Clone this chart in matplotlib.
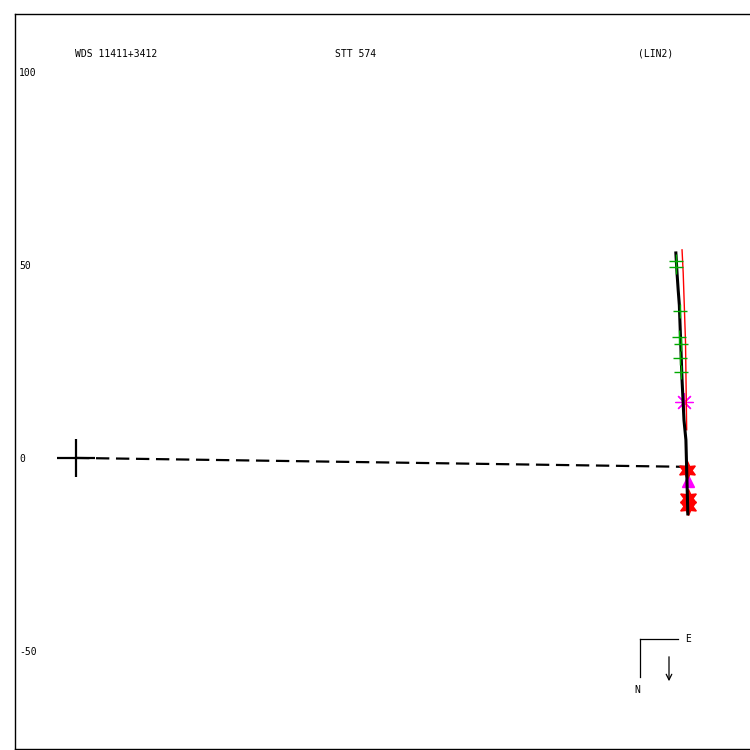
import matplotlib
matplotlib.use("Agg")
import matplotlib.pyplot as plt

# orbit / measures (arcsec-ish units, primary at origin)
orbit_x = [155.4, 155.7, 156.0, 156.3, 157.0, 157.5, 158.0, 158.5]
orbit_y = [53.1, 47.9, 43.5, 39.6, 20.2, 9.8, 4.7, -14.5]
red_x = [157.0, 157.3, 157.9, 158.2]
red_y = [53.9, 47.9, 30.0, 7.3]
node_x = [0.0, 157.8]
node_y = [0.0, -2.3]
micro_x = [155.4, 155.4, 156.5, 156.2, 156.7, 156.5, 156.7]
micro_y = [51.0, 49.5, 38.1, 31.3, 29.5, 25.9, 22.3]
ast_x = [157.5]
ast_y = [14.5]
star_x = [158.3, 158.5, 158.5]
star_y = [-3.1, -10.4, -12.4]
tri_x = [158.5]
tri_y = [-6.0]
yticks = [100, 50, 0, -50]
titles = ["WDS 11411+3412", "STT 574", "(LIN2)"]

fig = plt.figure(figsize=(7.5, 7.5), dpi=100)
ax = fig.add_axes([15 / 750, 1 / 750, 740 / 750, 735 / 750])
ax.set_xlim(-15.8, 175.9)
ax.set_ylim(-75.4, 115.0)

for s in ax.spines.values():
    s.set_linewidth(1.0)
ax.set_xticks([])
ax.set_yticks(yticks)
ax.set_yticklabels([str(v) for v in yticks], family="DejaVu Sans Mono", fontsize=7)
ax.tick_params(axis="y", length=0, pad=-3)
for lbl in ax.get_yticklabels():
    lbl.set_ha("left")

# primary
ax.plot([0], [0], marker="+", color="black", markersize=27, markeredgewidth=1.6)
# line of nodes
ax.plot(node_x, node_y, color="black", linewidth=1.6, linestyle=(0, (6, 3)))
# measures
ax.plot(ast_x, ast_y, linestyle="none", marker=(8, 2, 0), color="magenta", markersize=13, markeredgewidth=0.9)
ax.plot(tri_x, tri_y, linestyle="none", marker="^", color="magenta", markersize=9)
ax.plot(star_x, star_y, linestyle="none", marker=(6, 1, 0), color="red", markersize=13)
# orbit, drawn over the marks
ax.plot(red_x, red_y, color="red", linewidth=1.0, zorder=4)
ax.plot(orbit_x, orbit_y, color="black", linewidth=2.2, zorder=4)
ax.plot(micro_x, micro_y, linestyle="none", marker="+", color="#00aa00", markersize=10,
        markeredgewidth=1.0, zorder=5)

# header
for t, px in zip(titles, [75, 335, 638]):
    fig.text(px / 750, 1 - 54 / 750, t, family="DejaVu Sans Mono", fontsize=7, va="center", ha="left")

# compass
def fx(px):
    return px / 750
def fy(py):
    return 1 - py / 750
fig.add_artist(plt.Line2D([fx(640), fx(678)], [fy(639), fy(639)], color="black", linewidth=0.9))
fig.add_artist(plt.Line2D([fx(640), fx(640)], [fy(639), fy(677)], color="black", linewidth=0.9))
fig.text(fx(685), fy(639), "E", family="DejaVu Sans Mono", fontsize=7, va="center", ha="left")
fig.text(fx(637), fy(690), "N", family="DejaVu Sans Mono", fontsize=7, va="center", ha="center")
ax.annotate("", xy=(fx(669), fy(684)), xytext=(fx(669), fy(654)), xycoords="figure fraction",
            textcoords="figure fraction",
            arrowprops=dict(arrowstyle="->", color="black", linewidth=0.9, mutation_scale=10))

fig.savefig("out.png", dpi=100)
